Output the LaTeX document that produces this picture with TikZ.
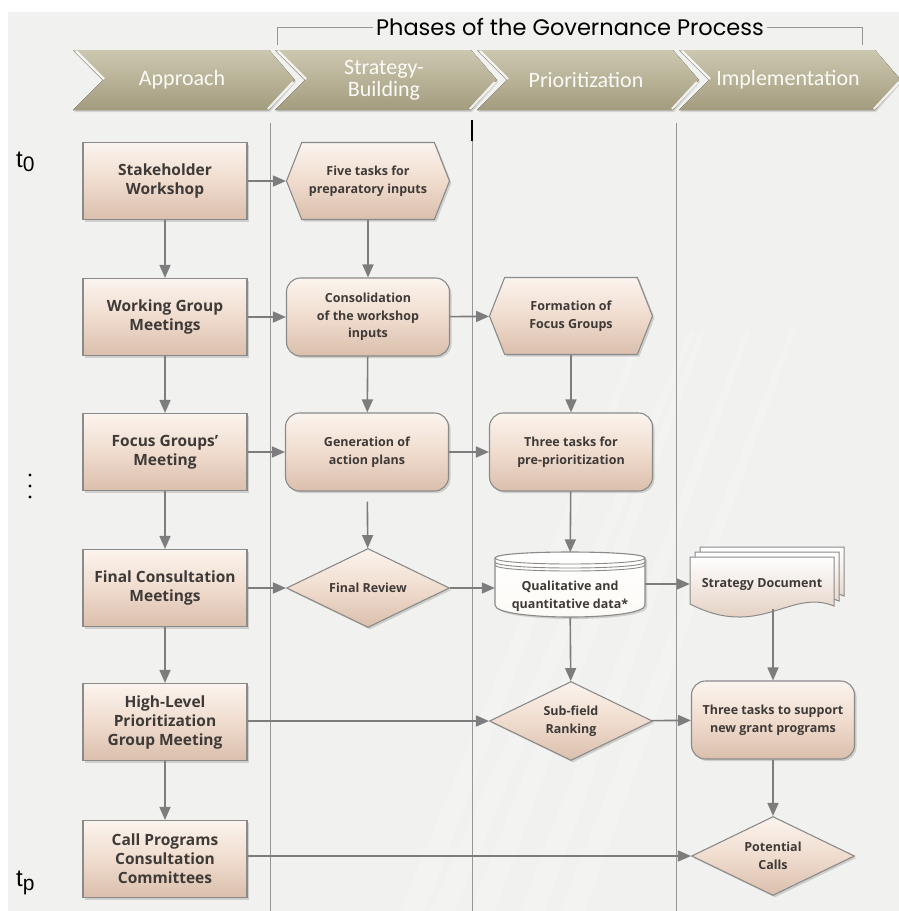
\documentclass[tikz,border=0pt]{standalone}
\usepackage{fontspec}
\setmainfont{Open Sans}
\newfontfamily\phasefont{Carlito}
\newfontfamily\titlefont{Poppins}
\newfontfamily\timefont{Liberation Sans}
\usetikzlibrary{arrows.meta,shapes.geometric,shapes.symbols,shadows}
\definecolor{bgcol}{RGB}{241,241,239}
\definecolor{boxtop}{RGB}{251,244,238}
\definecolor{boxmid}{RGB}{240,220,206}
\definecolor{boxbot}{RGB}{218,191,172}
\definecolor{boxline}{RGB}{138,138,138}
\definecolor{flowcol}{RGB}{125,125,125}
\definecolor{lanecol}{RGB}{150,150,150}
\definecolor{txtcol}{RGB}{62,58,56}
\definecolor{chevtop}{RGB}{204,199,176}
\definecolor{chevbot}{RGB}{163,156,126}
\definecolor{cylfill}{RGB}{253,250,245}

\begin{document}
\begin{tikzpicture}[x=1pt,y=-1pt,
	box/.style={draw=boxline,line width=1.1pt,top color=boxtop,bottom color=boxbot,middle color=boxmid,drop shadow={opacity=0.3,shadow xshift=2pt,shadow yshift=-2pt},text=txtcol,align=center,inner sep=2pt},
	meeting/.style={box,minimum width=164pt,minimum height=77pt,font=\bfseries\fontsize{15.5}{19}\selectfont},
	task/.style={box,rounded corners=14pt,minimum width=163pt,minimum height=78pt,font=\bfseries\fontsize{12.5}{17.5}\selectfont},
	prep/.style={task,sharp corners,signal,signal to=west and east,signal pointer angle=137,minimum height=77pt},
	decide/.style={task,sharp corners,diamond,aspect=2,inner sep=0pt,minimum height=79pt},
	flow/.style={draw=flowcol,line width=1.6pt,-{Triangle[length=13pt,width=11pt]}},
	lane/.style={draw=lanecol,line width=0.8pt},
	phase/.style={font=\phasefont\fontsize{22}{22}\selectfont,text={rgb,255:red,250;green,250;blue,246},align=center}]
	\useasboundingbox (0,0) rectangle (899,911);
	\fill[white] (0,0) rectangle (899,911);
	\fill[bgcol] (8,12) rectangle (899,911);
	\foreach \sx/\ex in {400/640,430/690,470/700,520/745,560/790}
		\fill[white,opacity=0.18] (\sx,911) -- (\sx+25,911) -- (\ex+6,330) -- (\ex,330) -- cycle;
	\node[font=\titlefont\fontsize{22.5}{22.5}\selectfont,inner sep=3pt] (title) at (570,27) {Phases of the Governance Process};
	\draw[lane] (277,45) |- (title.west);
	\draw[lane] (title.east) -| (862,45);
	\foreach \cx/\phase [count=\i] in {73/Approach,275/{Strategy-\\Building},477/Prioritization,679/Implementation} {
		\fill[top color=chevtop,bottom color=chevbot,drop shadow={opacity=0.25,shadow xshift=1pt,shadow yshift=-2pt}] (\cx,50) -- (\cx+196,50) -- (\cx+222,80) -- (\cx+196,110) -- (\cx,110) -- (\cx+30,80) -- cycle;
		\draw[white,line width=2.2pt,opacity=0.85] (\cx+3,51) -- (\cx+31,79) (\cx+220,82) -- (\cx+195,109);
		\node[phase] (phase-\i) at (\cx+109,80) {\phase};
	}
	\foreach \lx in {270,472,676}
		\draw[lane] (\lx,123) -- (\lx,911);
	\draw[black,line width=1.2pt] (472,120) -- (472,141);
	\node[font=\timefont\fontsize{24}{24}\selectfont,anchor=base west,inner sep=0pt] (t0) at (16,167) {t\raisebox{-4pt}{\fontsize{21}{21}\selectfont 0}};
	\node[font=\timefont\fontsize{24}{24}\selectfont,anchor=base west,inner sep=0pt] (tp) at (16,886) {t\raisebox{-4pt}{\fontsize{21}{21}\selectfont p}};
	\foreach \dy in {475,486,497}
		\fill[black] (30,\dy) circle (1.7);
	\node[meeting] (stake) at (165,181) {Stakeholder\\Workshop};
	\node[meeting] (work) at (165,317) {Working Group\\Meetings};
	\node[meeting] (focus) at (165,452) {Focus Groups'\\Meeting};
	\node[meeting] (final) at (165,588) {Final Consultation\\Meetings};
	\node[meeting] (high) at (165,722) {High-Level\\Prioritization\\Group Meeting};
	\node[meeting] (call) at (165,859) {Call Programs\\Consultation\\Committees};
	\node[prep] (five) at (368,181) {Five tasks for\\preparatory inputs};
	\node[task] (consol) at (368,317) {Consolidation\\of the workshop\\inputs};
	\node[task] (gener) at (367,452) {Generation of\\action plans};
	\node[decide] (review) at (368,588) {Final Review};
	\node[prep] (form) at (571,316) {Formation of\\Focus Groups};
	\node[task] (pre) at (571,452) {Three tasks for\\pre-prioritization};
	\draw[boxline,line width=1.1pt,top color=white,bottom color=cylfill,drop shadow={opacity=0.3,shadow xshift=2pt,shadow yshift=-2pt}] (495,558) -- (495,605) .. controls (495,621) and (645,621) .. (645,605) -- (645,558) .. controls (645,550) and (495,550) .. (495,558) -- cycle;
	\foreach \dy in {0,4,7}
		\draw[boxline,line width=0.9pt] (495,558+\dy) .. controls (495,566+\dy) and (645,566+\dy) .. (645,558+\dy);
	\node[minimum width=150pt,minimum height=65pt,align=center,text=txtcol,font=\bfseries\fontsize{12.5}{17.5}\selectfont] (data) at (570,585) {\rule{0pt}{32pt}Qualitative and\\quantitative data*};
	\foreach \s in {10,5,0}
		\draw[boxline,line width=1pt,top color=white,bottom color=boxbot,shift={(\s,-\s)}] (690,557) -- (834,557) -- (834,606) .. controls (790,588) and (760,640) .. (690,604) -- cycle;
	\node[minimum width=144pt,minimum height=50pt,text=txtcol,font=\bfseries\fontsize{12.5}{17.5}\selectfont] (sdoc) at (762,584) {Strategy Document};
	\node[decide] (sub) at (571,721) {Sub-field\\Ranking};
	\node[task] (supp) at (773,720) {Three tasks to support\\new grant programs};
	\node[decide] (calls) at (773,856) {Potential\\Calls};
	\draw[flow] (stake) -- (work);
	\draw[flow] (work) -- (focus);
	\draw[flow] (focus) -- (final);
	\draw[flow] (final) -- (high);
	\draw[flow] (high) -- (call);
	\draw[flow] (stake) -- (five);
	\draw[flow] (work) -- (consol);
	\draw[flow] (focus) -- (gener);
	\draw[flow] (final) -- (review);
	\draw[flow] (five) -- (consol);
	\draw[flow] (consol) -- (gener);
	\draw[flow,shorten <=10pt] (gener) -- (review);
	\draw[flow] (consol) -- (form);
	\draw[flow] (form) -- (pre);
	\draw[flow] (gener) -- (pre);
	\draw[flow] (pre) -- (data);
	\draw[flow] (review) -- (review -| data.west);
	\draw[flow] (data.east |- sdoc.west) -- (sdoc.west);
	\draw[flow] (data) -- (sub);
	\draw[flow] (supp.north |- sdoc.south) -- (supp.north);
	\draw[flow] (high.east |- sub.west) -- (sub.west);
	\draw[flow] (sub) -- (supp);
	\draw[flow] (supp) -- (calls);
	\draw[flow] (call.east |- calls.west) -- (calls.west);
\end{tikzpicture}
\end{document}
